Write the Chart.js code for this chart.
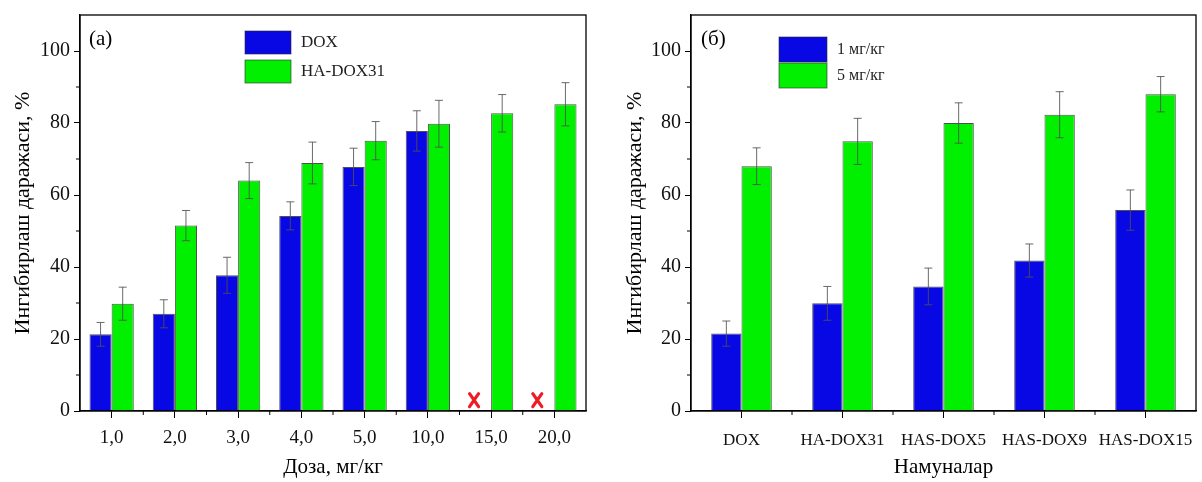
<!DOCTYPE html>
<html>
<head>
<meta charset="utf-8">
<script src="https://cdn.jsdelivr.net/npm/chart.js@4"></script>
<style>
  body { margin: 0; background: #fff; }
  .panel { position: absolute; top: 0; height: 482px; }
</style>
</head>
<body>
<div class="panel" style="left:0;width:600px"><canvas id="chartA"></canvas></div>
<div class="panel" style="left:600px;width:602px"><canvas id="chartB"></canvas></div>
<script>
// (a) inhibition vs dose
const doses = ['1,0', '2,0', '3,0', '4,0', '5,0', '10,0', '15,0', '20,0'];
const doxValues = [21.3, 27.0, 37.7, 54.2, 67.8, 77.8, null, null];
const doxErrors = [3.3, 3.9, 5.0, 3.9, 5.2, 5.6, null, null];
const haDoxValues = [29.8, 51.5, 64.0, 68.9, 75.1, 79.8, 82.7, 85.2];
const haDoxErrors = [4.6, 4.2, 5.0, 5.8, 5.3, 6.5, 5.2, 6.0];
// doses where DOX was not tested (marked with a red cross)
const doxNotTested = [null, null, null, null, null, null, 3, 3];

// (б) inhibition per sample at two doses
const samples = ['DOX', 'HA-DOX31', 'HAS-DOX5', 'HAS-DOX9', 'HAS-DOX15'];
const dose1Values = [21.5, 29.9, 34.6, 41.8, 55.8];
const dose1Errors = [3.5, 4.7, 5.1, 4.6, 5.6];
const dose5Values = [68.0, 74.9, 80.0, 82.3, 88.0];
const dose5Errors = [5.1, 6.4, 5.6, 6.4, 4.9];

const yTicks = [0, 20, 40, 60, 80, 100];
const yMax = 110;

const BLUE = 'rgb(8, 8, 228)';
const GREEN = 'rgb(0, 240, 0)';
const SERIF = "'Liberation Serif', 'Times New Roman', serif";

Chart.defaults.font.family = SERIF;
Chart.defaults.color = '#000';

// frame, minor ticks, error bars, crosses, legend and panel letter
const decor = {
  id: 'decor',
  afterDatasetsDraw(chart, args, opts) {
    const ctx = chart.ctx;
    const area = chart.chartArea;
    const y = chart.scales.y;
    ctx.save();

    // error bars
    chart.data.datasets.forEach((ds, di) => {
      const meta = chart.getDatasetMeta(di);
      meta.data.forEach((bar, i) => {
        const v = ds.data[i], e = ds.errors[i];
        if (v == null || e == null) return;
        const top = y.getPixelForValue(v + e);
        const bot = y.getPixelForValue(v - e);
        ctx.strokeStyle = 'rgba(80,80,80,0.85)';
        ctx.lineWidth = 1;
        ctx.beginPath();
        ctx.moveTo(bar.x, top); ctx.lineTo(bar.x, bot);
        ctx.moveTo(bar.x - 4, top); ctx.lineTo(bar.x + 4, top);
        ctx.moveTo(bar.x - 4, bot); ctx.lineTo(bar.x + 4, bot);
        ctx.stroke();
      });
    });

    // red crosses where a series has no bar
    if (opts.crosses) {
      const meta = chart.getDatasetMeta(0);
      ctx.strokeStyle = '#ee1c25';
      ctx.lineWidth = 3.2;
      ctx.lineCap = 'round';
      opts.crosses.forEach((v, i) => {
        if (v == null) return;
        const cx = meta.data[i].x - 6;
        const cy = y.getPixelForValue(v);
        ctx.beginPath();
        ctx.moveTo(cx - 4.5, cy - 6.5); ctx.lineTo(cx + 4.5, cy + 6.5);
        ctx.moveTo(cx + 4.5, cy - 6.5); ctx.lineTo(cx - 4.5, cy + 6.5);
        ctx.stroke();
      });
      ctx.lineCap = 'butt';
    }

    // frame
    ctx.strokeStyle = '#000';
    ctx.lineWidth = 1.3;
    ctx.strokeRect(area.left, area.top, area.right - area.left, area.bottom - area.top);

    // minor ticks
    ctx.lineWidth = 1;
    ctx.beginPath();
    for (let k = 0; k < yTicks.length - 1; k++) {
      const py = y.getPixelForValue((yTicks[k] + yTicks[k + 1]) / 2);
      ctx.moveTo(area.left - 4, py); ctx.lineTo(area.left, py);
    }
    const n = chart.data.labels.length;
    const w = (area.right - area.left) / n;
    for (let k = 1; k < n; k++) {
      const px = area.left + k * w;
      ctx.moveTo(px, area.bottom); ctx.lineTo(px, area.bottom + 4);
    }
    ctx.stroke();

    // legend
    const lg = opts.legend;
    ctx.font = lg.fontSize + 'px ' + SERIF;
    ctx.textBaseline = 'middle';
    ctx.textAlign = 'left';
    chart.data.datasets.forEach((ds, i) => {
      const bx = lg.x, by = lg.y + i * lg.gap;
      ctx.fillStyle = ds.backgroundColor;
      ctx.fillRect(bx, by, lg.w, lg.h);
      ctx.strokeStyle = 'rgba(40,40,40,0.6)';
      ctx.lineWidth = 1;
      ctx.strokeRect(bx, by, lg.w, lg.h);
      ctx.fillStyle = '#222';
      ctx.fillText(ds.label, bx + lg.w + 10, by + lg.h / 2);
    });

    // panel letter
    ctx.font = '21px ' + SERIF;
    ctx.fillStyle = '#000';
    ctx.fillText(opts.letter.text, opts.letter.x, opts.letter.y);

    ctx.restore();
  }
};

function makeChart(id, cfg) {
  return new Chart(document.getElementById(id), {
    type: 'bar',
    data: {
      labels: cfg.labels,
      datasets: cfg.series.map(s => ({
        label: s.label,
        data: s.values,
        errors: s.errors,
        backgroundColor: s.color,
        borderColor: 'rgba(20,20,20,0.75)',
        borderWidth: 1,
        borderSkipped: 'bottom',
        categoryPercentage: cfg.groupWidth,
        barPercentage: 1.0
      }))
    },
    options: {
      responsive: true,
      maintainAspectRatio: false,
      animation: false,
      layout: { padding: { top: 15, right: cfg.padRight, left: 0, bottom: 0 } },
      plugins: {
        legend: { display: false },
        tooltip: { enabled: false },
        decor: cfg.decor
      },
      scales: {
        x: {
          offset: true,
          grid: { offset: false, drawOnChartArea: false, drawTicks: true, tickLength: 7, color: '#000' },
          border: { display: true, color: '#000', width: 1.3 },
          ticks: { font: { size: cfg.xFont }, color: '#111', padding: cfg.xPad, maxRotation: 0, autoSkip: false },
          title: { display: true, text: cfg.xTitle, font: { size: 21 }, color: '#000', padding: { top: 0, bottom: 2 } },
          afterFit: s => { s.height = 71; s.paddingLeft = 0; s.paddingRight = 0; }
        },
        y: {
          min: 0,
          max: yMax,
          afterBuildTicks: s => { s.ticks = yTicks.map(v => ({ value: v })); },
          grid: { drawOnChartArea: false, drawTicks: true, tickLength: 6, color: '#000' },
          border: { display: true, color: '#000', width: 1.3 },
          ticks: { font: { size: 20 }, color: '#111', padding: 4 },
          title: { display: true, text: 'Ингибирлаш даражаси, %', font: { size: 22 }, color: '#000', padding: { top: cfg.yTitlePad, bottom: 0 } },
          afterFit: s => { s.width = cfg.yWidth; s.paddingTop = 0; s.paddingBottom = 0; }
        }
      }
    },
    plugins: [decor]
  });
}

makeChart('chartA', {
  labels: doses,
  series: [
    { label: 'DOX', values: doxValues, errors: doxErrors, color: BLUE },
    { label: 'HA-DOX31', values: haDoxValues, errors: haDoxErrors, color: GREEN }
  ],
  groupWidth: 0.7,
  padRight: 14,
  yWidth: 80,
  yTitlePad: 10,
  xFont: 19,
  xPad: 9,
  xTitle: 'Доза, мг/кг',
  decor: {
    crosses: doxNotTested,
    legend: { x: 245, y: 31, w: 46, h: 23, gap: 29, fontSize: 17 },
    letter: { text: '(a)', x: 89, y: 39 }
  }
});

makeChart('chartB', {
  labels: samples,
  series: [
    { label: '1 мг/кг', values: dose1Values, errors: dose1Errors, color: BLUE },
    { label: '5 мг/кг', values: dose5Values, errors: dose5Errors, color: GREEN }
  ],
  groupWidth: 0.6,
  padRight: 6,
  yWidth: 91,
  yTitlePad: 22,
  xFont: 17,
  xPad: 12,
  xTitle: 'Намуналар',
  decor: {
    crosses: null,
    legend: { x: 179, y: 37, w: 48, h: 25, gap: 26, fontSize: 16 },
    letter: { text: '(б)', x: 101, y: 39 }
  }
});
</script>
</body>
</html>
